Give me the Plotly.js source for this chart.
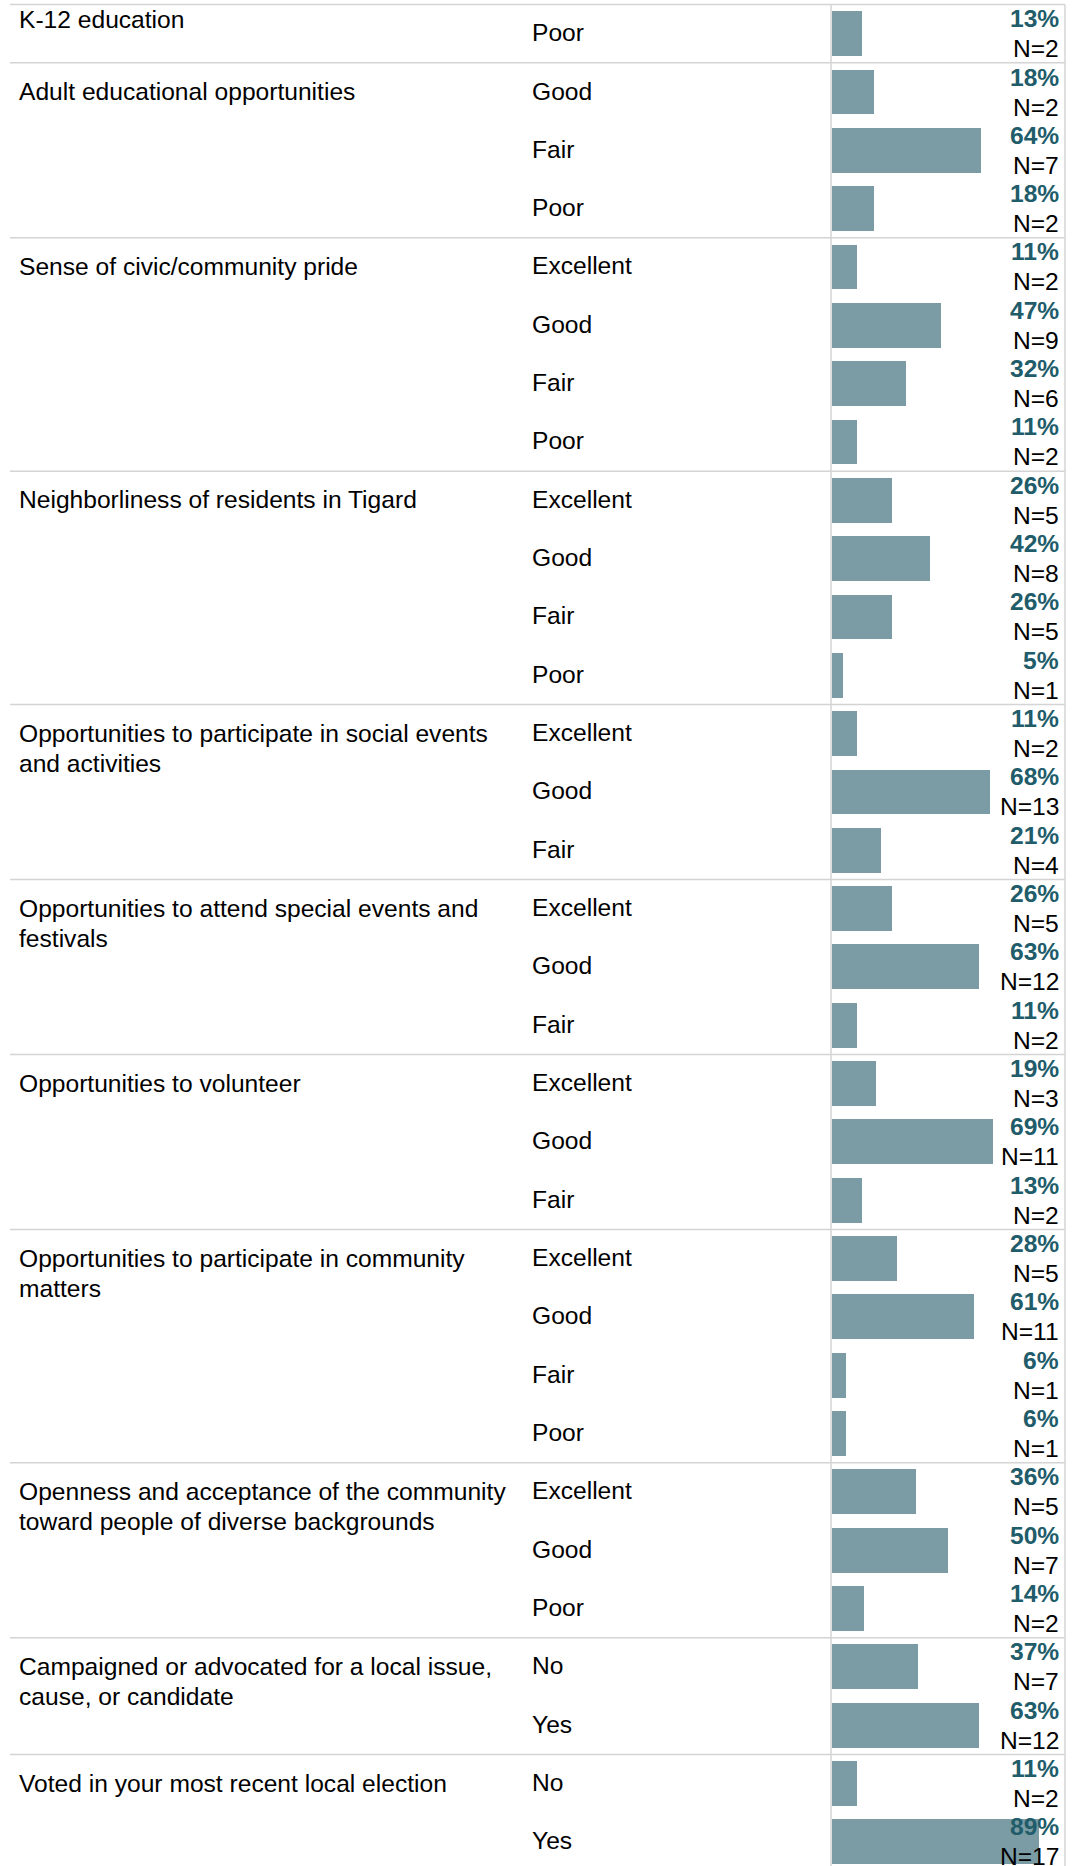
<!DOCTYPE html>
<html>
<head>
<meta charset="utf-8">
<script src="https://cdn.plot.ly/plotly-3.0.1.min.js"></script>
<style>
  html, body { margin: 0; padding: 0; background: #ffffff; }
  #chart { width: 1076px; height: 1866px; }
</style>
</head>
<body>
<div id="chart"></div>
<script>
const groupLabels = [
  "K-12 education",
  "Adult educational opportunities",
  "Sense of civic/community pride",
  "Neighborliness of residents in Tigard",
  "Opportunities to participate in social events<br>and activities",
  "Opportunities to attend special events and<br>festivals",
  "Opportunities to volunteer",
  "Opportunities to participate in community<br>matters",
  "Openness and acceptance of the community<br>toward people of diverse backgrounds",
  "Campaigned or advocated for a local issue,<br>cause, or candidate",
  "Voted in your most recent local election"
];

const rowGroup = [0, 1,1,1, 2,2,2,2, 3,3,3,3, 4,4,4, 5,5,5, 6,6,6, 7,7,7,7, 8,8,8, 9,9, 10,10];

const rowRatings = [
  "Poor",
  "Good","Fair","Poor",
  "Excellent","Good","Fair","Poor",
  "Excellent","Good","Fair","Poor",
  "Excellent","Good","Fair",
  "Excellent","Good","Fair",
  "Excellent","Good","Fair",
  "Excellent","Good","Fair","Poor",
  "Excellent","Good","Poor",
  "No","Yes",
  "No","Yes"
];

const pctValues = [13, 18,64,18, 11,47,32,11, 26,42,26,5, 11,68,21, 26,63,11, 19,69,13, 28,61,6,6, 36,50,14, 37,63, 11,89];
const nValues   = [2, 2,7,2, 2,9,6,2, 5,8,5,1, 2,13,4, 5,12,2, 3,11,2, 5,11,1,1, 5,7,2, 7,12, 2,17];

// ---- layout geometry ----
const W = 1076, H = 1866;
const rowPx = 58.33, topPx = 4.5;
const yTop = -0.5 - topPx / rowPx;
const yBot = yTop + H / rowPx;
const FONT = "Liberation Sans, Arial, Helvetica, sans-serif";
const FS = 24.6;
const LINE = 30;
const barColor = "#7b9ca5";
const pctColor = "#215c6a";
const lineColor = "#d4d4d4";

const rowIdx = rowRatings.map((_, i) => i);

const trace = {
  type: "bar",
  orientation: "h",
  x: pctValues,
  y: rowIdx,
  width: 0.77,
  marker: { color: barColor, line: { width: 0 } },
  hoverinfo: "skip"
};

const annotations = [];
const shapes = [];

// group labels and separators
groupLabels.forEach((g, gi) => {
  const first = rowGroup.indexOf(gi);
  const lines = g.split("<br>");
  lines.forEach((ln, k) => {
    let ys = 0.5 - k * LINE;
    if (first === 0) ys += 14;   // clipped group: label sticks to visible top
    annotations.push({
      xref: "paper", yref: "y", x: 16.5 / W, y: first,
      xanchor: "left", yanchor: "middle", yshift: ys,
      text: ln, showarrow: false, align: "left",
      font: { family: FONT, size: FS, color: "#000000" }
    });
  });
  shapes.push({
    type: "line", xref: "paper", yref: "y",
    x0: 10 / W, x1: 1065 / W, y0: first - 0.5, y1: first - 0.5,
    line: { color: lineColor, width: 1.5 }, layer: "above"
  });
});

// vertical lines
[831, 1065].forEach(px => {
  shapes.push({
    type: "line", xref: "paper", yref: "paper",
    x0: px / W, x1: px / W, y0: 0, y1: 1 - topPx / H,
    line: { color: lineColor, width: 1.5 }, layer: "above"
  });
});

// row labels
rowRatings.forEach((r, i) => {
  annotations.push({
    xref: "paper", yref: "y", x: 530 / W, y: i,
    xanchor: "left", yanchor: "middle", yshift: 1,
    text: r, showarrow: false,
    font: { family: FONT, size: FS, color: "#000000" }
  });
  annotations.push({
    xref: "paper", yref: "y", x: 1061 / W, y: i,
    xanchor: "right", yanchor: "middle", yshift: 15,
    text: "<b>" + pctValues[i] + "%</b>", showarrow: false,
    font: { family: FONT, size: FS, color: pctColor }
  });
  annotations.push({
    xref: "paper", yref: "y", x: 1061 / W, y: i,
    xanchor: "right", yanchor: "middle", yshift: -15,
    text: "N=" + nValues[i], showarrow: false,
    font: { family: FONT, size: FS, color: "#000000" }
  });
});

const layout = {
  width: W, height: H, autosize: false,
  margin: { l: 0, r: 0, t: 0, b: 0, pad: 0 },
  paper_bgcolor: "#ffffff", plot_bgcolor: "rgba(0,0,0,0)",
  showlegend: false,
  bargap: 0,
  xaxis: {
    domain: [831.5 / W, 1065 / W], range: [0, 100],
    visible: false, showgrid: false, zeroline: false, fixedrange: true
  },
  yaxis: {
    range: [yBot, yTop], visible: false, showgrid: false, zeroline: false, fixedrange: true
  },
  annotations: annotations,
  shapes: shapes,
  hovermode: false
};

Plotly.newPlot("chart", [trace], layout, { staticPlot: true, displayModeBar: false });
</script>
</body>
</html>
